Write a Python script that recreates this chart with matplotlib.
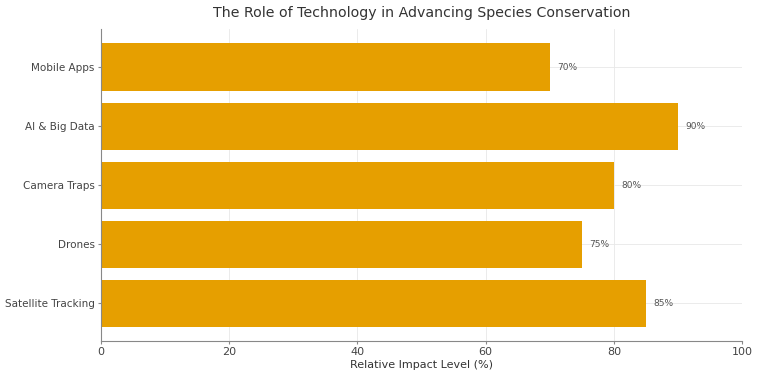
import matplotlib.pyplot as plt

# Data
technologies = ['Satellite Tracking', 'Drones', 'Camera Traps', 'AI & Big Data', 'Mobile Apps']
impact = [85, 75, 80, 90, 70]

fig = plt.figure(figsize=(7.58, 3.76), dpi=100)
ax = fig.add_axes([0.133, 0.093, 0.846, 0.829])

bars = ax.barh(technologies, impact, color='#E69F00', height=0.8, zorder=2)

for bar, val in zip(bars, impact):
    ax.text(bar.get_width() + 1.2, bar.get_y() + bar.get_height() / 2, f'{val}%',
            va='center', ha='left', fontsize=6.5, color='#555555')

ax.set_xlim(0, 100)
ax.set_xlabel('Relative Impact Level (%)', fontsize=8, color='#333333', labelpad=2)
ax.set_title('The Role of Technology in Advancing Species Conservation',
             fontsize=10.2, color='#333333', pad=9)

ax.grid(True, color='#e8e8e8', linewidth=0.6, zorder=0)
ax.set_axisbelow(True)
for side in ['top', 'right']:
    ax.spines[side].set_visible(False)
for side in ['left', 'bottom']:
    ax.spines[side].set_color('#888888')
ax.tick_params(axis='both', labelsize=7.5, colors='#444444', length=2.5, pad=2, color='#888888')
ax.tick_params(axis='x', labelsize=8)

fig.savefig('out.png', dpi=100)
